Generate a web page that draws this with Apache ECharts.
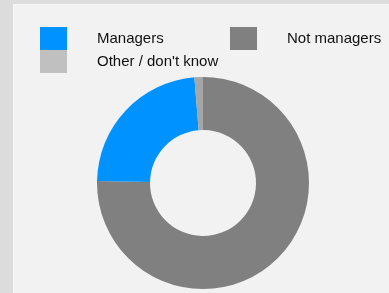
<!DOCTYPE html>
<html>
<head>
<meta charset="utf-8">
<script src="https://cdn.jsdelivr.net/npm/echarts@6/dist/echarts.min.js"></script>
<style>
html,body{margin:0;padding:0;background:#dcdcdc;}
#c{width:389px;height:293px;}
</style>
</head>
<body>
<div id="c"></div>
<script>
const categories = ["Not managers", "Managers", "Other / don't know"];
const values = [75.3, 23.4, 1.3];
const sliceColors = ["#808080", "#0092ff", "#a6a6a6"];
const legendColors = ["#808080", "#0092ff", "#c0c0c0"];

const chart = echarts.init(document.getElementById('c'), null, {renderer: 'canvas'});
const legendBase = {
  orient: 'horizontal', padding: 0, itemGap: 0,
  itemWidth: 27, itemHeight: 23, icon: 'rect', selectedMode: false,
  textStyle: {fontFamily: 'Liberation Sans, Arial, sans-serif', fontSize: 15, color: '#111111', padding: [0, 0, 0, 25]}
};
function leg(i, left, top) {
  return Object.assign({}, legendBase, {
    left: left, top: top,
    data: [{name: categories[i], itemStyle: {color: legendColors[i]}}]
  });
}
chart.setOption({
  backgroundColor: '#dcdcdc',
  animation: false,
  graphic: [{
    type: 'rect', left: 13, top: 4, z: -10,
    shape: {width: 376, height: 289},
    style: {fill: '#f2f2f2', stroke: '#f8f8f8', lineWidth: 1}
  }],
  legend: [leg(1, 40, 27), leg(0, 230, 27), leg(2, 40, 50)],
  series: [{
    type: 'pie',
    center: [203, 183],
    radius: [53, 106],
    startAngle: 90,
    clockwise: true,
    label: {show: false},
    labelLine: {show: false},
    emphasis: {disabled: true},
    itemStyle: {borderWidth: 0},
    data: categories.map((n, i) => ({name: n, value: values[i], itemStyle: {color: sliceColors[i]}}))
  }]
});
</script>
</body>
</html>
